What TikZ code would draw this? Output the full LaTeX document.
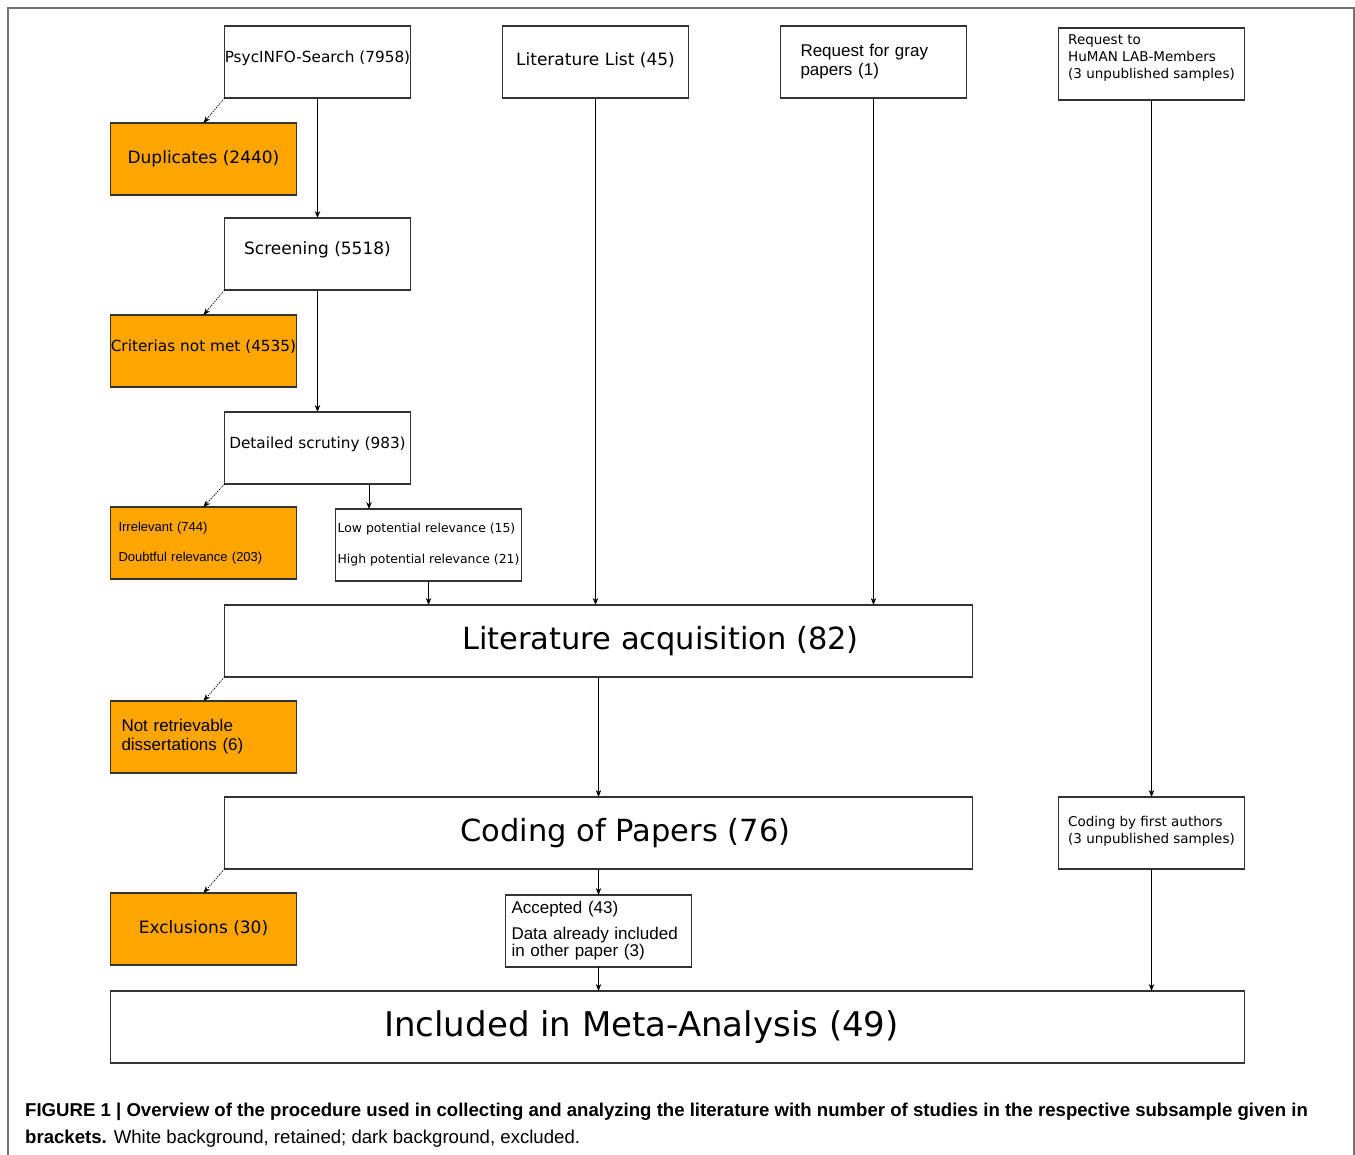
\documentclass[tikz,border=0pt]{standalone}
\usepackage{fontspec}
\setmainfont{DejaVu Sans}
\newfontfamily\arialfont{Liberation Sans}
\usetikzlibrary{positioning,arrows.meta}
\definecolor{exclorange}{RGB}{255,165,0}
\newcommand{\sink}[1]{\rule[-#1]{0pt}{#1}}

\begin{document}
\begin{tikzpicture}[x=1pt, y=-1pt, node distance={25pt}, >={Stealth[length=7pt,width=5.5pt]}]
	\tikzstyle{box}=[draw=black!80, line width=1.1pt, minimum width=186pt, minimum height=72pt, inner sep=0pt, outer sep=0pt]
	\tikzstyle{keep}=[box, fill=white]
	\tikzstyle{drop}=[box, fill=exclorange]
	\tikzstyle{wide}=[keep, minimum width=748pt, font=\fontsize{30.5}{36}\selectfont]
	\tikzstyle{f17}=[font=\fontsize{17}{20}\selectfont]
	\tikzstyle{f15}=[font=\fontsize{15.3}{18}\selectfont]
	\tikzstyle{f13}=[font=\fontsize{13.5}{17}\selectfont, align=left]
	\tikzstyle{a17}=[font=\arialfont\fontsize{17}{19}\selectfont, align=left]

	\useasboundingbox (0,0) rectangle (1355,1155);
	\draw[black!55, line width=1.5pt] (8,1155) -- (8,8) -- (1354,8) -- (1354,1155);

	% sources
	\node[keep,f15] (psyc) at (317.5,62) {PsycINFO-Search (7958)\sink{10.4pt}};
	\node[keep,f17] (litlist) [right=92pt of psyc] {Literature List (45)\sink{6.5pt}};
	\node[keep,a17,text width=146pt] (gray) [right=92pt of litlist] {Request for gray\\papers (1)};
	\node[keep,f13] (human) [right=92pt of gray, yshift=-2pt] {Request to\\HuMAN LAB-Members\\(3 unpublished samples)\sink{15pt}};

	% search column
	\node[keep,f17] (screen) [below=120pt of psyc] {Screening (5518)\sink{12.5pt}};
	\node[keep,f15] (detail) [below=122pt of screen] {Detailed scrutiny (983)\sink{10.4pt}};
	\node[keep,font=\fontsize{12.4}{15}\selectfont,align=left] (pot) [below=25pt of detail.south east, xshift=18pt] {Low potential relevance (15)\\[16pt]High potential relevance (21)};
	\coordinate (potin) at ([xshift=33.5pt]pot.north west);

	% excluded
	\node[drop,f17] (dup) [below=25pt of psyc.south west, xshift=-21pt] {Duplicates (2440)};
	\node[drop,f15] (crit) [below=25pt of screen.south west, xshift=-21pt] {Criterias not met (4535)\sink{11.4pt}};
	\node[drop,text width=170pt,align=left,font=\arialfont\fontsize{13}{15}\selectfont] (irr) [below=23pt of detail.south west, xshift=-21pt] {Irrelevant (744)\\[15pt]Doubtful relevance (203)};

	% main line
	\node[wide] (acq) [below right=121pt and 0pt of detail.south west] {\hspace*{124pt}Literature acquisition (82)};
	\node[drop,a17,text width=164pt] (notret) [below=24pt of acq.south west, xshift=-21pt] {Not retrievable\\dissertations (6)};
	\node[wide] (coding) [below=120pt of acq] {\hspace*{54pt}Coding of Papers (76)};
	\node[keep,f13] (codfirst) [right=86pt of coding] {Coding by first authors\\(3 unpublished samples)\sink{7pt}};
	\node[drop,f17] (excl) [below=24pt of coding.south west, xshift=-21pt] {Exclusions (30)\sink{4.5pt}};
	\node[keep,text width=174pt,align=left,font=\arialfont\fontsize{17}{17}\selectfont] (acc) [below=26pt of coding] {Accepted (43)\\[9pt]Data already included\\in other paper (3)};
	\node[keep,minimum width=1134pt,font=\fontsize{34}{40}\selectfont] (meta) [below right=26pt and 0pt of excl.south west] {Included in Meta-Analysis (49)\hspace*{72pt}};

	\node[anchor=north west, align=left, inner sep=0pt, font=\arialfont\fontsize{18.6}{27}\selectfont] (caption) at (25,1103) {\textbf{FIGURE 1 | Overview of the procedure used in collecting and analyzing the literature with number of studies in the respective subsample given in}\\\textbf{brackets.} White background, retained; dark background, excluded.};

	\foreach \from/\to in {psyc/screen,screen/detail,acq/coding,coding/acc,human/codfirst}
	\draw [->, line width=0.8pt] (\from) -- (\to);
	\foreach \from/\to in {pot/acq,litlist/acq,gray/acq,acc/meta,codfirst/meta}
	\draw [->, line width=0.8pt] (\from.south) -- (\from.south |- \to.north);
	\draw [->, line width=0.8pt] (potin |- detail.south) -- (potin);
	\foreach \from/\to in {psyc/dup,screen/crit,detail/irr,acq/notret,coding/excl}
	\draw [->, line width=0.8pt, dash pattern=on 1.2pt off 1.2pt] (\from.south west) -- (\to.north);
\end{tikzpicture}
\end{document}
